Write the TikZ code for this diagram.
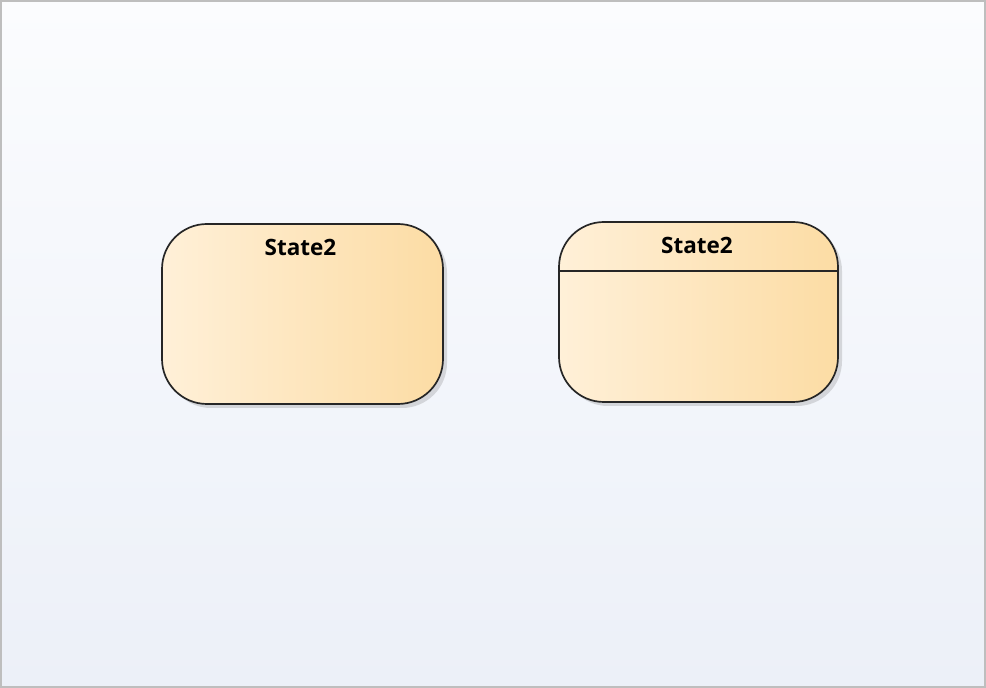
\documentclass[tikz,border=0pt]{standalone}
\usepackage{fontspec}
\setmainfont{Open Sans}
\usetikzlibrary{shadows}
\definecolor{bgtop}{RGB}{251,252,254}
\definecolor{bgbot}{RGB}{236,240,248}
\definecolor{frame}{RGB}{190,190,190}
\definecolor{stL}{RGB}{255,240,216}
\definecolor{stR}{RGB}{252,220,164}
\tikzset{
  statebox/.style={draw=black!85, line width=1.7pt, rounded corners=45pt,
    left color=stL, right color=stR, minimum width=281pt, minimum height=180pt,
    inner sep=0pt, outer sep=0pt,
    drop shadow={shadow xshift=4pt, shadow yshift=-4pt, opacity=0.22, fill=black!60}},
  statetitle/.style={font=\bfseries\fontsize{22.5}{26}\selectfont, text=black, inner sep=0pt},
  divider/.style={draw=black!85, line width=1.7pt}
}
\begin{document}
\begin{tikzpicture}[x=1pt,y=1pt]
\useasboundingbox (0,0) rectangle (986,688);
\shade[top color=bgtop, bottom color=bgbot] (0,0) rectangle (986,688);
\draw[frame, line width=2pt] (1,1) rectangle (985,687);
\node[statebox] (s1) at (302.5,374) {};
\node[statetitle] (t1) at (300.5,441) {State2};
\node[statebox, minimum width=279pt] (s2) at (698.5,376) {};
\node[statetitle] (t2) at (697,443) {State2};
\coordinate (dl) at (560,417);
\coordinate (dr) at (837,417);
\draw[divider] (dl) -- (dr);
\end{tikzpicture}
\end{document}
